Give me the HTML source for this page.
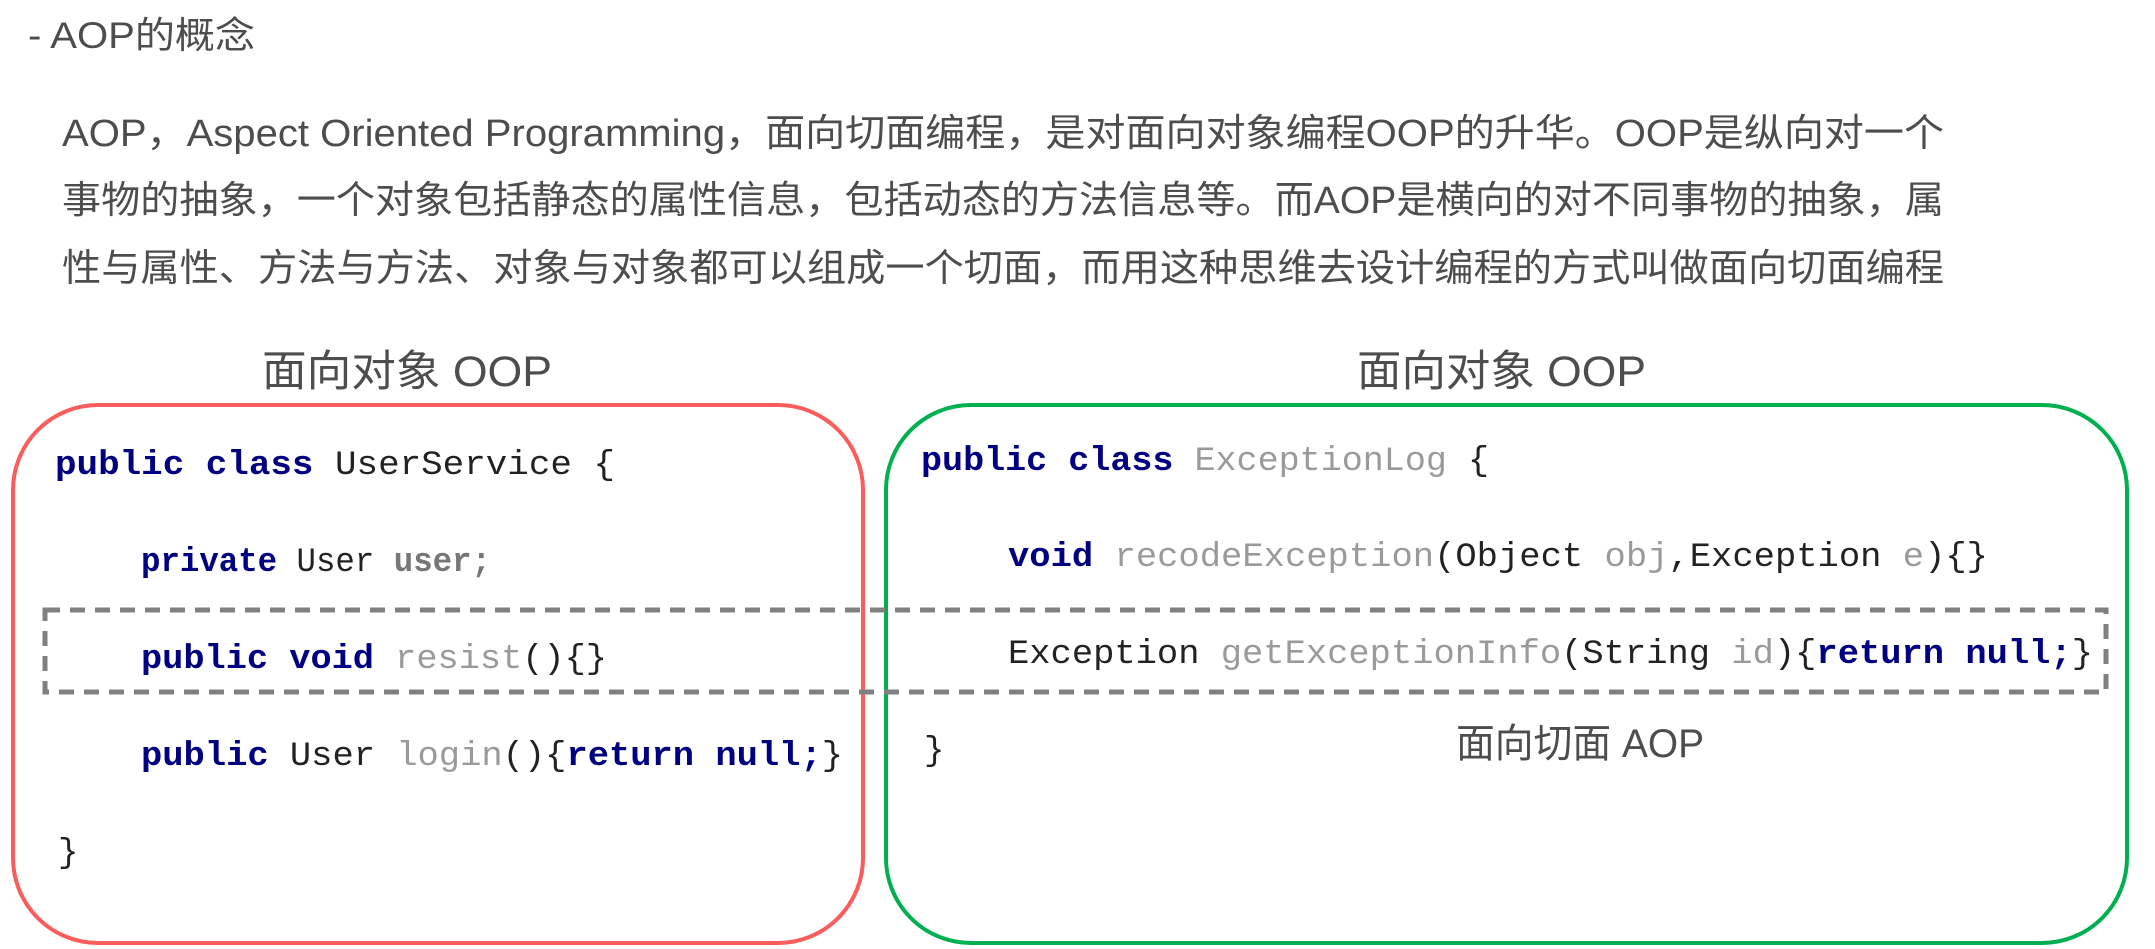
<!DOCTYPE html>
<html><head><meta charset="utf-8"><style>
html,body{margin:0;padding:0;background:#fff;}
svg{display:block}
.cn{font-family:"Liberation Sans","Noto Sans CJK SC",sans-serif;fill:#4d4d4d;}
.code{font-family:"Liberation Mono",monospace;font-size:34px;white-space:pre;}
.k{fill:#000080;font-weight:bold}
.g{fill:#9a9a9a}
.p{fill:#222}
</style></head><body>
<svg width="2155" height="949" viewBox="0 0 2155 949" xmlns="http://www.w3.org/2000/svg">
<text class="cn" x="28" y="48" font-size="37" textLength="227" lengthAdjust="spacingAndGlyphs">- AOP的概念</text>
<text class="cn" x="62" y="146" font-size="38" textLength="1882" lengthAdjust="spacingAndGlyphs">AOP，Aspect Oriented Programming，面向切面编程，是对面向对象编程OOP的升华。OOP是纵向对一个</text>
<text class="cn" x="62" y="213" font-size="38" textLength="1882" lengthAdjust="spacingAndGlyphs">事物的抽象，一个对象包括静态的属性信息，包括动态的方法信息等。而AOP是横向的对不同事物的抽象，属</text>
<text class="cn" x="62" y="281" font-size="38" textLength="1882" lengthAdjust="spacingAndGlyphs">性与属性、方法与方法、对象与对象都可以组成一个切面，而用这种思维去设计编程的方式叫做面向切面编程</text>

<text class="cn" x="262" y="386" font-size="43" textLength="290" lengthAdjust="spacingAndGlyphs">面向对象 OOP</text>
<text class="cn" x="1357" y="386" font-size="43" textLength="289" lengthAdjust="spacingAndGlyphs">面向对象 OOP</text>

<rect x="13" y="405" width="850" height="538" rx="85" ry="85" fill="none" stroke="#fb5c5c" stroke-width="4"/>
<rect x="886" y="405" width="1241" height="538" rx="85" ry="85" fill="none" stroke="#00b050" stroke-width="4"/>
<rect x="45" y="610" width="2061" height="82" fill="none" stroke="#808080" stroke-width="5" stroke-dasharray="15,10"/>

<text class="code" x="55" y="474" textLength="560" lengthAdjust="spacingAndGlyphs"><tspan class="k">public class</tspan><tspan class="p"> UserService {</tspan></text>
<text class="code" x="141" y="571" textLength="350" lengthAdjust="spacingAndGlyphs"><tspan class="k">private</tspan><tspan class="p"> User </tspan><tspan fill="#777" font-weight="bold">user;</tspan></text>
<text class="code" x="141" y="668" textLength="466" lengthAdjust="spacingAndGlyphs"><tspan class="k">public void</tspan><tspan class="g"> resist</tspan><tspan class="p">(){}</tspan></text>
<text class="code" x="141" y="765" textLength="702" lengthAdjust="spacingAndGlyphs"><tspan class="k">public</tspan><tspan class="p"> User </tspan><tspan class="g">login</tspan><tspan class="p">(){</tspan><tspan class="k">return null;</tspan><tspan class="p">}</tspan></text>
<text class="code p" x="58" y="862">}</text>

<text class="code" x="921" y="470" textLength="568" lengthAdjust="spacingAndGlyphs"><tspan class="k">public class</tspan><tspan class="g"> ExceptionLog</tspan><tspan class="p"> {</tspan></text>
<text class="code" x="1008" y="566" textLength="980" lengthAdjust="spacingAndGlyphs"><tspan class="k">void</tspan><tspan class="g"> recodeException</tspan><tspan class="p">(Object </tspan><tspan class="g">obj</tspan><tspan class="p">,Exception </tspan><tspan class="g">e</tspan><tspan class="p">){}</tspan></text>
<text class="code" x="1008" y="663" textLength="1085" lengthAdjust="spacingAndGlyphs"><tspan class="p">Exception </tspan><tspan class="g">getExceptionInfo</tspan><tspan class="p">(String </tspan><tspan class="g">id</tspan><tspan class="p">){</tspan><tspan class="k">return null;</tspan><tspan class="p">}</tspan></text>
<text class="code p" x="924" y="760">}</text>

<text class="cn" x="1456" y="757" font-size="40" textLength="248" lengthAdjust="spacingAndGlyphs">面向切面 AOP</text>
</svg>
</body></html>
